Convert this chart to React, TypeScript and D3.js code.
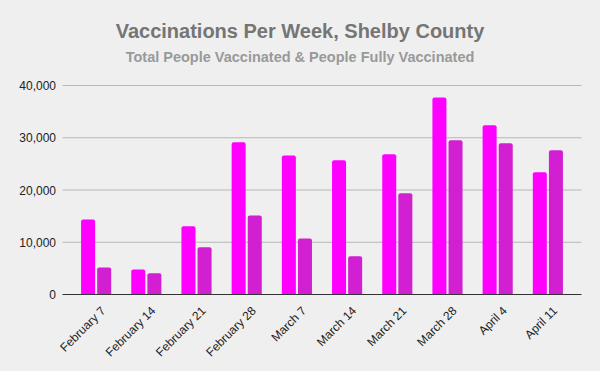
import React from "react";
import { scaleBand, scaleLinear } from "d3";

const weeks = [
  "February 7", "February 14", "February 21", "February 28", "March 7",
  "March 14", "March 21", "March 28", "April 4", "April 11",
];
const totalVaccinated = [14340, 4780, 13060, 29120, 26580, 25680, 26830, 37720, 32370, 23380];
const fullyVaccinated = [5160, 4070, 9040, 15100, 10710, 7320, 19370, 29500, 28930, 27590];
const seriesNames = ["total", "fully"];
const seriesColors = ["#ff00ff", "#d11fd1"];
const yTicks = [0, 10000, 20000, 30000, 40000];

const width = 600;
const height = 371;
const left = 62.5;
const right = 581.5;
const top = 85.5;
const bottom = 294.5;
const font = "Arial, 'Liberation Sans', sans-serif";

// bar with rounded top corners
function barPath(x: number, y: number, w: number, h: number, r: number) {
  const rr = Math.min(r, h, w / 2);
  return `M${x},${y + h}V${y + rr}Q${x},${y} ${x + rr},${y}H${x + w - rr}Q${x + w},${y} ${x + w},${y + rr}V${y + h}Z`;
}

export default function App() {
  const x = scaleBand<string>().domain(weeks).range([left, right]).paddingInner(0.4).paddingOuter(0.37);
  const xi = scaleBand<string>().domain(seriesNames).range([0, x.bandwidth()]).paddingInner(0.13);
  const y = scaleLinear().domain([0, 40000]).range([bottom, top]);
  const series = [totalVaccinated, fullyVaccinated];

  return (
    <svg width={width} height={height} style={{ position: "absolute", left: 0, top: 0 }} fontFamily={font}>
      <rect width={width} height={height} fill="#efefef" />
      <text x={300} y={38} textAnchor="middle" fontSize={20} fontWeight="bold" fill="#757575">
        Vaccinations Per Week, Shelby County
      </text>
      <text x={300} y={62} textAnchor="middle" fontSize={14.5} fontWeight="bold" fill="#999999">
        Total People Vaccinated &amp; People Fully Vaccinated
      </text>

      {yTicks.map((t) => (
        <g key={t}>
          {t > 0 && <line x1={left} x2={right} y1={y(t)} y2={y(t)} stroke="#b7b7b7" strokeWidth={1} />}
          <text x={56} y={y(t) + 4.5} textAnchor="end" fontSize={12} fill="#222">
            {t.toLocaleString("en-US")}
          </text>
        </g>
      ))}

      {weeks.map((w, i) => (
        <g key={w}>
          {series.map((s, j) => {
            const bx = x(w)! + xi(seriesNames[j])!;
            const by = y(s[i]);
            return (
              <path key={j} d={barPath(bx, by, xi.bandwidth(), bottom - by, 2)} fill={seriesColors[j]} />
            );
          })}
        </g>
      ))}

      <line x1={left} x2={right} y1={bottom} y2={bottom} stroke="#333" strokeWidth={1} />

      {weeks.map((w) => {
        const cx = x(w)! + x.bandwidth() / 2 + 10;
        const cy = bottom + 17;
        return (
          <text key={w} x={cx} y={cy} transform={`rotate(-45 ${cx} ${cy})`} textAnchor="end" fontSize={12} fill="#222">
            {w}
          </text>
        );
      })}
    </svg>
  );
}
